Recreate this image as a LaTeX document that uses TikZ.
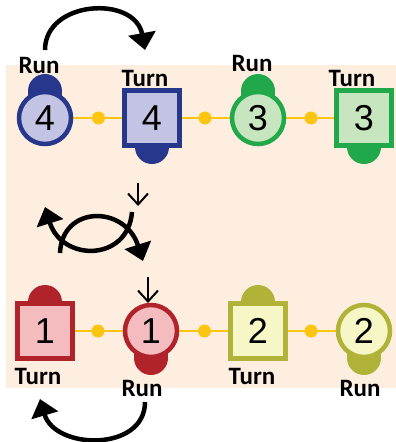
\documentclass[tikz,border=0pt]{standalone}
\usepackage{fontspec}
\setmainfont{Carlito}
\newfontfamily\digitfont{Liberation Sans}
\usetikzlibrary{arrows.meta,calc}
\definecolor{peach}{HTML}{FDEEDF}
\definecolor{blueD}{HTML}{26378C}
\definecolor{blueL}{HTML}{C3C3E3}
\definecolor{greenD}{HTML}{21A84A}
\definecolor{greenL}{HTML}{C7E5BF}
\definecolor{redD}{HTML}{B1232B}
\definecolor{redL}{HTML}{F5BCC0}
\definecolor{oliveD}{HTML}{B1B339}
\definecolor{oliveL}{HTML}{F6F6C6}
\definecolor{gold}{HTML}{FBC512}
\tikzset{
  runnode/.style={circle, line width=4.5pt, draw=#1D, fill=#1L, minimum size=52pt,
    inner sep=0pt, font=\digitfont\fontsize{36}{36}\selectfont},
  turnnode/.style={rectangle, line width=5pt, draw=#1D, fill=#1L, minimum size=55pt,
    inner sep=0pt, font=\digitfont\fontsize{36}{36}\selectfont},
  lbl/.style={inner sep=0pt, font=\bfseries\fontsize{25}{25}\selectfont},
  link/.style={gold, line width=2.5pt},
  dot/.style={circle, fill=gold, minimum size=13pt, inner sep=0pt},
  bigarrow/.style={line width=4.5pt, -{Triangle[width=27pt,length=17pt]}},
  pointer/.style={line width=2pt, -{Straight Barb[width=20pt,length=11pt]}}
}
% cap on a token: #1 node, #2 shift of the dome, #3 colour
\newcommand{\tokencap}[3]{%
  \fill[#3] ([xshift=-17pt]#1) rectangle ([xshift=17pt,yshift=#2]#1);
  \fill[#3] ([yshift=#2]#1) circle (17pt);}
\begin{document}
\begin{tikzpicture}[x=1pt,y=-1pt]
\useasboundingbox (0,0) rectangle (396,442);
\fill[peach] (6,65) rectangle (396,388);
% positions of the tokens
\coordinate (p1) at (45,118);
\coordinate (p2) at (152,118);
\coordinate (p3) at (258,118);
\coordinate (p4) at (364,118);
\coordinate (q1) at (45,331);
\coordinate (q2) at (151,331);
\coordinate (q3) at (258,331);
\coordinate (q4) at (364,331);
% caps
\tokencap{p1}{27pt}{blueD}
\tokencap{p2}{-29pt}{blueD}
\tokencap{p3}{27pt}{greenD}
\tokencap{p4}{-29pt}{greenD}
\tokencap{q1}{29pt}{redD}
\tokencap{q2}{-27pt}{redD}
\tokencap{q3}{29pt}{oliveD}
\tokencap{q4}{-27pt}{oliveD}
% links
\draw[link] (p1) -- (p4);
\draw[link] (q1) -- (q4);
% tokens
\node[runnode=blue] (run4) at (p1) {4};
\node[turnnode=blue] (turn4) at (p2) {4};
\node[runnode=green] (run3) at (p3) {3};
\node[turnnode=green] (turn3) at (p4) {3};
\node[turnnode=red] (turn1) at (q1) {1};
\node[runnode=red] (run1) at (q2) {1};
\node[turnnode=olive] (turn2) at (q3) {2};
\node[runnode=olive] (run2) at (q4) {2};
\node[dot] (d1) at ($(run4)!0.5!(turn4)$) {};
\node[dot] (d2) at ($(turn4)!0.5!(run3)$) {};
\node[dot] (d3) at ($(run3)!0.5!(turn3)$) {};
\node[dot] (d4) at ($(turn1)!0.5!(run1)$) {};
\node[dot] (d5) at ($(run1)!0.5!(turn2)$) {};
\node[dot] (d6) at ($(turn2)!0.5!(run2)$) {};
% labels
\node[lbl] (l1) at (39,65) {Run};
\node[lbl] (l2) at (145,78) {Turn};
\node[lbl] (l3) at (252,63) {Run};
\node[lbl] (l4) at (352,78) {Turn};
\node[lbl] (l5) at (38,376) {Turn};
\node[lbl] (l6) at (142,388) {Run};
\node[lbl] (l7) at (252,376) {Turn};
\node[lbl] (l8) at (360,388) {Run};
% arrows
\coordinate (a1) at (45,50);
\coordinate (a2) at (145,50);
\coordinate (b1) at (145,402);
\coordinate (b2) at (40,399);
\coordinate (s1) at (60,253);
\coordinate (s2) at (143,261);
\coordinate (t1) at (132,212);
\coordinate (t2) at (45,207);
\coordinate (m1) at (138,183);
\coordinate (m2) at (138,206);
\coordinate (n1) at (148,277);
\coordinate (n2) at (148,303);
\draw[bigarrow] (a1) .. controls (45,0) and (135,-5) .. (a2);
\draw[bigarrow] (b1) .. controls (145,452) and (55,450) .. (b2);
\draw[bigarrow] (s1) .. controls (62,205) and (125,205) .. (s2);
\draw[bigarrow] (t1) .. controls (128,262) and (62,262) .. (t2);
\draw[pointer] (m1) -- (m2);
\draw[pointer] (n1) -- (n2);
\end{tikzpicture}
\end{document}
